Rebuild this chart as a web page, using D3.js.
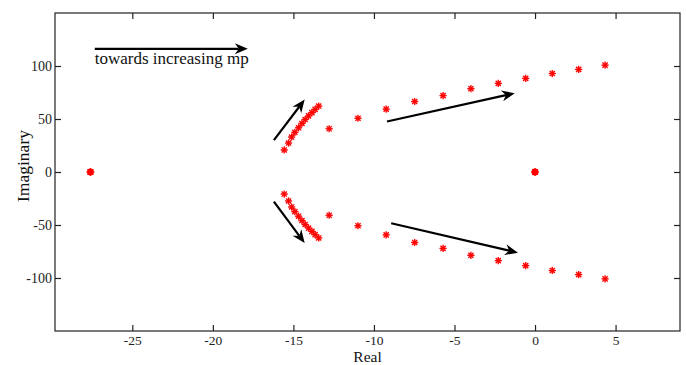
<!DOCTYPE html>
<html><head><meta charset="utf-8">
<script src="https://cdn.jsdelivr.net/npm/d3@7"></script>
<style>body{margin:0;background:#fff}svg{display:block}</style>
</head><body>
<script>
// Data
const xTicks = [-25, -20, -15, -10, -5, 0, 5];
const yTicks = [-100, -50, 0, 50, 100];
// upper branch roots (real, imag); lower branch is the conjugate
const branchReal = [-15.57,-15.30,-15.11,-14.91,-14.68,-14.47,-14.27,-14.06,-13.85,-13.65,-13.43,
                    -12.78,-10.99,-9.24,-7.47,-5.71,-3.98,-2.28,-0.58,1.07,2.71,4.35];
const branchImag = [20.8,27.3,33.0,37.4,41.7,45.8,49.5,52.9,56.0,59.1,62.2,
                    40.8,50.7,59.3,66.5,72.1,78.6,83.6,88.3,92.9,96.8,100.8];
const realPoles = [-27.6, 0];
// annotation arrows [x1,y1,x2,y2] in data units
const arrows = [
  [-27.33, 116.2, -17.83, 116.2],
  [-16.21, 30.0, -14.30, 68.3],
  [-9.19, 47.6, -1.26, 74.4],
  [-16.21, -28.0, -14.30, -67.0],
  [-8.93, -48.3, -1.06, -76.1]
];
const noteText = "towards increasing mp";

const W = 686, H = 365;
const m = {l:55, r:6, t:13, b:34};
const svg = d3.select("body").append("svg").attr("width", W).attr("height", H);
const x = d3.scaleLinear().domain([-29.8, 9]).range([m.l, W - m.r]);
const y = d3.scaleLinear().domain([-150, 150]).range([H - m.b, m.t]);
const font = "'Liberation Serif', 'Times New Roman', serif";
const fmt = d => String(d);

// frame
svg.append("rect").attr("x", m.l).attr("y", m.t).attr("width", W - m.r - m.l).attr("height", H - m.b - m.t)
  .attr("fill", "none").attr("stroke", "#222").attr("stroke-width", 1.2);

const tl = 6;
const gx = svg.append("g").attr("transform", `translate(0,${H - m.b})`)
  .call(d3.axisBottom(x).tickValues(xTicks).tickSize(-tl).tickPadding(4).tickFormat(fmt));
const gx2 = svg.append("g").attr("transform", `translate(0,${m.t})`)
  .call(d3.axisTop(x).tickValues(xTicks).tickSize(-tl).tickFormat(""));
const gy = svg.append("g").attr("transform", `translate(${m.l},0)`)
  .call(d3.axisLeft(y).tickValues(yTicks).tickSize(-tl).tickPadding(3).tickFormat(fmt));
const gy2 = svg.append("g").attr("transform", `translate(${W - m.r},0)`)
  .call(d3.axisRight(y).tickValues(yTicks).tickSize(-tl).tickFormat(""));
[gx, gx2, gy, gy2].forEach(g => {
  g.select(".domain").remove();
  g.selectAll(".tick line").attr("stroke", "#222").attr("stroke-width", 1.2);
  g.selectAll("text").attr("font-family", font).attr("font-size", 14).attr("fill", "#222");
});
gx.selectAll("text").attr("font-size", 13.5);

// axis labels
svg.append("text").attr("x", (m.l + W - m.r) / 2).attr("y", 361.5).attr("text-anchor", "middle")
  .attr("font-family", font).attr("font-size", 15.5).attr("fill", "#111").text("Real");
svg.append("text").attr("transform", `translate(29,166) rotate(-90)`).attr("text-anchor", "middle")
  .attr("font-family", font).attr("font-size", 17.5).attr("fill", "#111").text("Imaginary");

// asterisk markers
function star(g, px, py, r) {
  const a = r * 0.72;
  const segs = [[-r,0,r,0],[0,-r,0,r],[-a,-a,a,a],[-a,a,a,-a]];
  segs.forEach(s => g.append("line").attr("x1", px + s[0]).attr("y1", py + s[1])
    .attr("x2", px + s[2]).attr("y2", py + s[3]).attr("stroke", "#ff0000").attr("stroke-width", 1.3));
}
const pts = [];
branchReal.forEach((re, i) => { pts.push([re, branchImag[i]]); pts.push([re, -branchImag[i]]); });
const mk = svg.append("g");
pts.forEach(p => {
  mk.append("circle").attr("cx", x(p[0])).attr("cy", y(p[1])).attr("r", 2.6).attr("fill", "#ff6666").attr("opacity", 0.6);
  star(mk, x(p[0]), y(p[1]), 3.6);
});
realPoles.forEach(re => {
  mk.append("circle").attr("cx", x(re)).attr("cy", y(0)).attr("r", 3.4).attr("fill", "#ff0000");
  star(mk, x(re), y(0), 4);
});

// arrows
function arrow(x1, y1, x2, y2) {
  const X1 = x(x1), Y1 = y(y1), X2 = x(x2), Y2 = y(y2);
  const ang = Math.atan2(Y2 - Y1, X2 - X1);
  const L = 13, Wd = 5.5, back = 9;
  const ux = Math.cos(ang), uy = Math.sin(ang), nx = -uy, ny = ux;
  svg.append("line").attr("x1", X1).attr("y1", Y1).attr("x2", X2 - ux * back).attr("y2", Y2 - uy * back)
    .attr("stroke", "#000").attr("stroke-width", 2.2);
  const p = [[X2, Y2], [X2 - ux * L + nx * Wd, Y2 - uy * L + ny * Wd],
             [X2 - ux * back, Y2 - uy * back], [X2 - ux * L - nx * Wd, Y2 - uy * L - ny * Wd]];
  svg.append("path").attr("d", "M" + p.map(q => q.join(",")).join("L") + "Z").attr("fill", "#000");
}
arrows.forEach(a => arrow(...a));

svg.append("text").attr("x", x(-27.33)).attr("y", 64).attr("font-family", font).attr("font-size", 17)
  .attr("fill", "#111").text(noteText);
</script>
</body></html>
